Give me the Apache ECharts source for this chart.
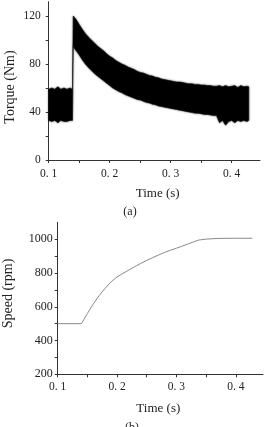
<!DOCTYPE html>
<html>
<head>
<meta charset="utf-8">
<script src="https://cdn.jsdelivr.net/npm/echarts@6/dist/echarts.min.js"></script>
<style>
html,body{margin:0;padding:0;background:#fff;}
#c{width:264px;height:427px;}
</style>
</head>
<body>
<div id="c"></div>
<script>
// ---- Data ----
// (a) Torque envelope (the oscillation band): time, upper edge, lower edge
const torqueTime = [0.100,0.105,0.110,0.115,0.120,0.125,0.130,0.135,0.139,0.1402,0.142,0.145,0.150,0.155,0.160,0.165,0.170,0.175,0.180,0.185,0.190,0.195,0.200,0.205,0.210,0.215,0.220,0.225,0.230,0.235,0.240,0.245,0.250,0.255,0.260,0.265,0.270,0.275,0.280,0.285,0.290,0.295,0.300,0.305,0.310,0.315,0.320,0.325,0.330,0.335,0.340,0.345,0.350,0.355,0.360,0.365,0.370,0.375,0.380,0.385,0.390,0.395,0.400,0.405,0.410,0.415,0.420,0.425,0.428];
const torqueUpper = [59,60,59,61,59,60,59,60,59,120,119,117,113,109,105.5,102.5,100,97.5,95,93,91,88.5,86.5,85,83,81.5,80,79,77.5,76.5,75.5,74,73,72.5,71.5,70.5,70,69,68.5,67.5,67,66.5,66,65.5,65,65,64.5,64,63.5,63.5,63,63,62.5,62.5,62,62,61.5,61.5,62,61,62,61,61.5,62,60.5,62,61,61.5,61];
const torqueLower = [33,32,33,31,33,32,32,33,33,95,93,91,87.5,83.5,80,77,74.5,72,70,68,66,64,62,60,58.5,57,56,54.5,53.5,52.5,51.5,50.5,50,49,48,47.5,46.5,46,45,44.5,44,43.5,43,42.5,42,41.5,41,40.5,40,39.5,39,39,38.5,38,38,37.5,37,37,31,33,29,32,33,31,33,32,33,32,33];

// (b) Speed
const speedTime = [0.100,0.140,0.150,0.160,0.170,0.180,0.190,0.200,0.210,0.220,0.230,0.240,0.250,0.260,0.270,0.280,0.290,0.300,0.310,0.320,0.330,0.337,0.350,0.370,0.400,0.428];
const speedValue = [500,500,560,617,667,710,748,777,798,818,838,857,875,891,907,922,935,947,960,973,986,995,1001,1005,1006,1006];

// Axis ticks / labels
const timeLabels = [0.1,0.2,0.3,0.4];
const timeTicks = [0.1,0.15,0.2,0.25,0.3,0.35,0.4];
const torqueLabels = [0,40,80,120];
const torqueTicks = [0,20,40,60,80,100,120];
const speedLabels = [200,400,600,800,1000];
const speedTicks = [200,300,400,500,600,700,800,900,1000];

// ---- Build ----
const torqueData = torqueTime.map((t,i)=>[t, torqueUpper[i], torqueLower[i]]);
const speedData = speedTime.map((t,i)=>[t, speedValue[i]]);

const FONT = 'Liberation Serif';
const axisCol = '#333';
const txtCol = '#222';
const fmtTime = v => v.toFixed(1).replace('.', '. ');

function xAx(gi, max, margin){
  return {
    type:'value', gridIndex:gi, min:0.1, max:max,
    axisLine:{show:true,onZero:false,lineStyle:{color:axisCol,width:1}},
    axisTick:{show:true,length:3,customValues:timeTicks,lineStyle:{color:axisCol}},
    axisLabel:{customValues:timeLabels,formatter:fmtTime,fontFamily:FONT,fontSize:11.5,color:txtCol,margin:margin},
    splitLine:{show:false}
  };
}
function yAx(gi, min, max, ticks, labels, fs, margin){
  return {
    type:'value', gridIndex:gi, min:min, max:max,
    axisLine:{show:true,onZero:false,lineStyle:{color:axisCol,width:1}},
    axisTick:{show:true,length:3,customValues:ticks,lineStyle:{color:axisCol}},
    axisLabel:{customValues:labels,formatter:v=>String(v),fontFamily:FONT,fontSize:fs,color:txtCol,margin:margin},
    splitLine:{show:false}
  };
}

function renderBand(params, api){
  if (params.dataIndex !== 0) return null;
  const top = torqueData.map(d => api.coord([d[0], d[1]]));
  const bot = torqueData.map(d => api.coord([d[0], d[2]])).reverse();
  return {
    type:'polygon',
    shape:{points: top.concat(bot)},
    style:{fill:'#000', stroke:'#111', lineWidth:0.6,
           shadowBlur:2, shadowColor:'rgba(0,0,0,0.55)'}
  };
}

const chart = echarts.init(document.getElementById('c'), null, {renderer:'canvas'});
chart.setOption({
  animation:false,
  backgroundColor:'#fff',
  grid:[
    {left:48.7, top:1.7, width:211.3, height:158.3},
    {left:57.7, top:222.4, width:205.3, height:151.9}
  ],
  xAxis:[ xAx(0, 0.4464, 8), xAx(1, 0.4459, 7) ],
  yAxis:[
    yAx(0, 0, 131.9, torqueTicks, torqueLabels, 11.5, 8),
    yAx(1, 200, 1100, speedTicks, speedLabels, 12, 5)
  ],
  series:[
    {type:'custom', coordinateSystem:'cartesian2d', xAxisIndex:0, yAxisIndex:0,
     data:torqueData, encode:{x:0, y:[1,2]}, renderItem:renderBand, silent:true},
    {type:'line', xAxisIndex:1, yAxisIndex:1, data:speedData,
     showSymbol:false, lineStyle:{color:'#8a8a8a',width:1}}
  ],
  graphic:[
    {type:'text', x:10, y:87, rotation:Math.PI/2, style:{text:'Torque (Nm)', font:'14px "Liberation Serif"', fill:txtCol, textAlign:'center', textVerticalAlign:'middle'}},
    {type:'text', x:157.7, y:193.3, style:{text:'Time (s)', font:'13px "Liberation Serif"', fill:txtCol, textAlign:'center', textVerticalAlign:'middle'}},
    {type:'text', x:130, y:212, style:{text:'(a)', font:'12px "Liberation Serif"', fill:txtCol, textAlign:'center', textVerticalAlign:'middle'}},
    {type:'text', x:8, y:293.5, rotation:Math.PI/2, style:{text:'Speed (rpm)', font:'14px "Liberation Serif"', fill:txtCol, textAlign:'center', textVerticalAlign:'middle'}},
    {type:'text', x:158.3, y:408.3, style:{text:'Time (s)', font:'13px "Liberation Serif"', fill:txtCol, textAlign:'center', textVerticalAlign:'middle'}},
    {type:'text', x:132, y:428, style:{text:'(b)', font:'12px "Liberation Serif"', fill:txtCol, textAlign:'center', textVerticalAlign:'middle'}}
  ]
});
</script>
</body>
</html>
